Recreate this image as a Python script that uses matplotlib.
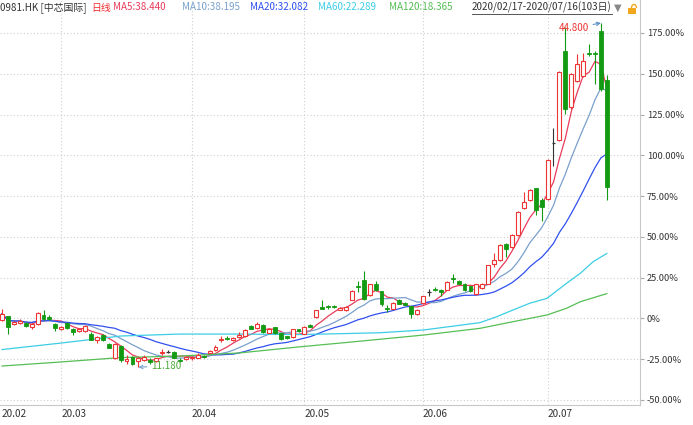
import matplotlib
matplotlib.use('Agg')
import matplotlib.pyplot as plt
import numpy as np
import pandas as pd
from matplotlib.patches import Rectangle, Arc
from matplotlib.lines import Line2D

plt.rcParams['font.family'] = ['Noto Sans CJK SC', 'DejaVu Sans']

# ---------------- data ----------------
title_code = "0981.HK [中芯国际]"
period_label = "日线"
date_range = "2020/02/17-2020/07/16(103日)"
month_labels = ["20.02", "20.03", "20.04", "20.05", "20.06", "20.07"]
month_start_idx = [0, 10, 32, 51, 71, 92]

# percentage change values (OHLC) per trading day
opens = [-1.0, 1.2, -3.7, -2.9, -2.9, -5.3, -3.7, 2.0, 0.8, -3.7,
         -6.5, -2.9, -6.5, -7.8, -7.8, -9.4, -13.1, -10.2, -15.5, -24.5,
         -17.0, -26.3, -23.7, -26.0, -25.7, -25.5, -26.1, -21.5, -20.9, -20.5,
         -25.3, -25.0, -24.5, -24.3, -23.0, -21.2, -19.6, -13.5, -11.8, -13.0,
         -11.2, -10.8, -4.7, -5.9, -3.9, -8.8, -5.5, -9.2, -11.0, -11.5,
         -6.7, -9.4, -4.3, 0.8, 6.7, 7.4, 7.4, 5.3, 4.9, 11.5,
         19.6, 23.7, 14.1, 20.8, 16.7, 6.5, 5.9, 11.0, 9.4, 7.4,
         2.5, 9.4, 16.1, 17.8, 17.6, 17.6, 24.5, 22.9, 21.2, 19.6,
         14.7, 18.8, 21.2, 33.1, 35.5, 45.8, 43.7, 50.9, 67.8, 72.7,
         80.1, 72.3, 73.3, 107.5, 109.5, 163.8, 129.5, 145.8, 148.9, 162.5,
         162.5, 176.5, 146.3]
highs = [5.9, 1.5, -1.5, -0.6, -2.3, -3.0, 3.7, 5.3, 2.0, -3.0,
         -4.7, -2.3, -6.0, -6.0, -4.0, -8.2, -10.8, -9.8, -15.0, -15.0,
         -16.5, -22.7, -23.0, -23.5, -22.5, -24.5, -24.0, -19.0, -19.5, -20.0,
         -24.0, -23.0, -23.0, -21.5, -22.5, -19.5, -16.5, -11.0, -11.0, -11.5,
         -8.2, -6.8, -4.3, -2.5, -3.5, -6.0, -5.0, -9.0, -10.5, -6.3,
         -6.3, -4.5, -3.7, 5.3, 11.0, 8.0, 8.0, 7.0, 7.4, 17.2,
         23.0, 29.0, 21.2, 23.0, 17.0, 8.0, 9.8, 12.2, 9.8, 7.8,
         5.7, 14.0, 18.0, 19.0, 18.0, 22.7, 27.0, 23.5, 21.6, 20.0,
         21.2, 21.5, 32.8, 39.8, 45.5, 46.5, 51.5, 65.8, 77.4, 79.5,
         80.1, 74.0, 97.8, 116.8, 151.5, 178.5, 150.5, 162.0, 162.5, 168.0,
         164.0, 181.1, 149.5]
lows = [-1.5, -9.4, -4.3, -3.5, -5.5, -6.5, -4.0, -0.8, -0.8, -7.8,
        -7.0, -6.3, -10.4, -8.4, -8.2, -13.5, -15.1, -14.1, -18.4, -25.0,
        -26.8, -27.8, -28.8, -29.9, -26.3, -28.0, -26.5, -22.5, -21.5, -24.5,
        -27.0, -25.5, -25.5, -24.5, -24.5, -21.5, -20.0, -14.3, -13.5, -14.1,
        -11.8, -11.2, -6.6, -6.2, -8.8, -9.2, -9.5, -13.0, -12.8, -12.0,
        -8.4, -9.8, -5.5, 0.5, 5.5, 6.0, 6.3, 5.0, 4.5, 11.0,
        16.0, 11.5, 13.5, 16.8, 7.5, 4.0, 5.5, 8.6, 8.0, 0.5,
        2.2, 9.0, 14.0, 16.5, 13.5, 17.2, 22.0, 20.8, 16.5, 16.0,
        14.3, 18.0, 20.8, 31.4, 35.0, 37.6, 43.0, 50.5, 67.0, 72.0,
        63.1, 60.0, 72.5, 93.5, 109.0, 125.4, 128.5, 145.0, 148.0, 161.0,
        143.8, 139.5, 72.3]
closes = [2.9, -5.3, -2.3, -1.8, -4.9, -3.7, 3.3, -0.2, -0.2, -5.7,
          -5.3, -5.7, -8.6, -6.5, -4.9, -13.1, -11.5, -13.5, -18.0, -15.5,
          -25.7, -25.1, -27.8, -24.5, -23.7, -26.5, -24.5, -20.5, -20.9, -24.0,
          -26.0, -23.5, -23.8, -22.2, -23.8, -20.2, -17.6, -12.8, -12.8, -12.2,
          -10.2, -7.4, -6.3, -3.5, -8.4, -6.3, -9.2, -12.5, -12.3, -6.7,
          -8.0, -5.5, -5.1, 4.9, 6.0, 6.7, 6.9, 6.5, 6.9, 16.7,
          19.0, 12.1, 20.8, 17.2, 9.0, 5.9, 9.4, 9.0, 8.4, 2.9,
          5.3, 13.5, 16.1, 17.2, 16.1, 22.2, 24.1, 21.2, 17.2, 16.7,
          20.8, 20.8, 32.5, 35.5, 44.7, 42.7, 50.9, 65.2, 71.3, 78.8,
          66.2, 68.2, 97.2, 107.5, 150.9, 128.5, 150.0, 156.0, 158.1, 162.0,
          162.0, 140.7, 80.4]

ma_windows = [5, 10, 20]
ma_names = ["MA5", "MA10", "MA20", "MA60", "MA120"]
ma_last_values = ["38.440", "38.195", "32.082", "22.289", "18.365"]

# long moving averages (index, percent)
ma60_idx = [0, 10, 20, 30, 40, 50, 58, 63.7, 71.1, 80.6, 83.4, 86.2, 89.0, 91.9, 95.2, 97.5, 99.7, 102]
ma60_pct = [-19.1, -15.1, -10.8, -9.6, -9.6, -9.9, -9.3, -8.8, -7.1, -2.6, 1.0, 5.2, 9.3, 12.3, 21.5, 27.6, 34.8, 39.8]
ma120_idx = [0, 10, 20, 30, 40, 50, 58, 63.7, 71.1, 80.6, 86.2, 91.9, 95.2, 97.5, 102]
ma120_pct = [-29.2, -26.7, -24.0, -23.1, -21.2, -17.5, -14.8, -12.8, -10.2, -6.1, -2.0, 2.1, 6.2, 10.2, 15.2]

ytick_vals = [-50, -25, 0, 25, 50, 75, 100, 125, 150, 175]
high_label = "44.800"
low_label = "11.180"
high_idx = 101
low_idx = 23

# ---------------- style ----------------
UP = '#ee3535'
DOWN = '#139a13'
FLAT = '#333333'
MA_COLORS = ['#e83c5c', '#7aa0cc', '#3050ee', '#3ccde4', '#55bf55']
FS = 6.7
FS_HDR = 7.1

W, H = 693, 425
fig = plt.figure(figsize=(W / 100, H / 100), dpi=100)
ax_bottom_px = 405
ax = fig.add_axes([0, (H - ax_bottom_px) / H, 640 / W, ax_bottom_px / H])

px_per_idx = 5.93
px_per_pct = 1.631
zero_px = 318.4
ax.set_xlim(-2 / px_per_idx, (640 - 2) / px_per_idx)
ax.set_ylim((zero_px - ax_bottom_px) / px_per_pct, zero_px / px_per_pct)

n = len(closes)
idx = np.arange(n)
cl = pd.Series(closes)

# moving averages
for k, win in enumerate(ma_windows):
    ax.plot(idx, cl.rolling(win, min_periods=1).mean(), color=MA_COLORS[k], lw=0.9, zorder=2)
ax.plot(ma60_idx, ma60_pct, color=MA_COLORS[3], lw=0.9, zorder=2)
ax.plot(ma120_idx, ma120_pct, color=MA_COLORS[4], lw=0.9, zorder=2)

# candles
bw = 0.66
for i in range(n):
    o, h, l, c = opens[i], highs[i], lows[i], closes[i]
    if c > o:
        ax.vlines(i, c, h, color=UP, lw=0.8, zorder=3)
        ax.vlines(i, l, o, color=UP, lw=0.8, zorder=3)
        ax.add_patch(Rectangle((i - bw / 2, o), bw, c - o, facecolor='white',
                               edgecolor=UP, lw=0.8, zorder=4))
    elif c < o:
        ax.vlines(i, l, h, color=DOWN, lw=0.8, zorder=3)
        ax.add_patch(Rectangle((i - bw / 2, c), bw, o - c, facecolor=DOWN,
                               edgecolor=DOWN, lw=0.6, zorder=4))
    else:
        ax.vlines(i, l, h, color=FLAT, lw=0.8, zorder=3)
        ax.hlines(o, i - bw / 2, i + bw / 2, color=FLAT, lw=0.9, zorder=4)

# grid
ax.set_yticks(ytick_vals)
ax.set_yticklabels(["0%" if v == 0 else f"{v:.2f}%" for v in ytick_vals])
ax.yaxis.tick_right()
ax.grid(axis='y', color='#cfcfcf', linestyle=(0, (1, 2)), lw=0.8, zorder=0)
for m in month_start_idx[1:]:
    ax.axvline(m, color='#cfcfcf', linestyle=(0, (1, 2)), lw=0.8, zorder=0)
ax.set_xticks(month_start_idx)
ax.set_xticklabels(month_labels, ha='left')
ax.tick_params(axis='x', length=0, pad=3, labelsize=7.2, labelcolor='#333333')
ax.tick_params(axis='y', length=3, color='#aaaaaa', pad=2, labelsize=FS, labelcolor='#333333')
for s in ['left', 'top']:
    ax.spines[s].set_visible(False)
ax.spines['right'].set_color('#c8c8c8')
ax.spines['right'].set_linewidth(0.8)
ax.spines['bottom'].set_color('#c8c8c8')
ax.spines['bottom'].set_linewidth(0.8)

# annotations of extremes
ax.annotate(high_label, xy=(high_idx, highs[high_idx]),
            xytext=((589 - 2) / px_per_idx, (zero_px - 28) / px_per_pct),
            ha='right', va='center', color=UP, fontsize=7.0,
            arrowprops=dict(arrowstyle='->', color='#5b8fc7', lw=0.8,
                            shrinkA=1, shrinkB=0, mutation_scale=6), zorder=6)
ax.annotate(low_label, xy=(low_idx, lows[low_idx]),
            xytext=((151 - 2) / px_per_idx, (zero_px - 366) / px_per_pct),
            ha='left', va='center', color='#4aa83a', fontsize=7.0,
            arrowprops=dict(arrowstyle='->', color='#7aa0cc', lw=0.8,
                            shrinkA=1, shrinkB=0, mutation_scale=6), zorder=6)

# header
def fx(px):
    return px / W

def fy(py):
    return 1 - py / H

hy = fy(7.5)
fig.text(fx(0), hy, title_code, color='#333333', fontsize=FS_HDR, va='center')
fig.text(fx(91), hy, period_label, color='#ee3030', fontsize=FS_HDR, va='center')
hdr_x = [113, 182, 250, 318, 389]
for k in range(5):
    fig.text(fx(hdr_x[k]), hy, f"{ma_names[k]}:{ma_last_values[k]}",
             color=MA_COLORS[k], fontsize=FS_HDR, va='center')
dt = fig.text(fx(472), hy, date_range, color='#333333', fontsize=FS_HDR, va='center')
fig.text(fx(614), hy, "▼", color='#888888', fontsize=FS_HDR, va='center',
         family=['DejaVu Sans'])
fig.canvas.draw()
bb = dt.get_window_extent()
fig.add_artist(Line2D([bb.x0 / W, bb.x1 / W], [fy(13.8), fy(13.8)],
                      color='#555555', lw=0.7))
# lock icon
fig.add_artist(Rectangle((fx(628), fy(14)), 8 / W, 6 / H, facecolor='#f2a81d',
                         edgecolor='none'))
fig.add_artist(Arc((fx(634), fy(8)), 5 / W, 7 / H, theta1=0, theta2=180,
                   color='#f2a81d', lw=1.0))

fig.savefig('out.png', dpi=100)
